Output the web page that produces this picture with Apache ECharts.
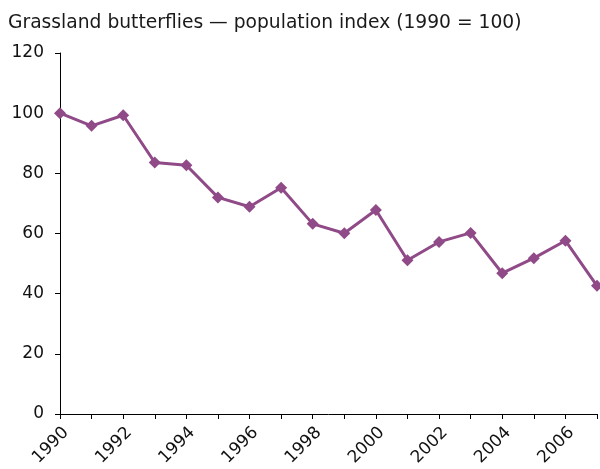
<!DOCTYPE html>
<html>
<head>
<meta charset="utf-8">
<script src="https://cdn.jsdelivr.net/npm/echarts@6/dist/echarts.min.js"></script>
<style>
  html, body { margin: 0; padding: 0; background: #fff; }
  #chart { width: 600px; height: 469px; }
</style>
</head>
<body>
<div id="chart"></div>
<script>
// population index, 1990 = 100
var years = ['1990', '1991', '1992', '1993', '1994', '1995', '1996', '1997', '1998',
             '1999', '2000', '2001', '2002', '2003', '2004', '2005', '2006', '2007'];
var indexValues = [100, 95.8, 99.3, 83.6, 82.7, 72.0, 68.9, 75.2, 63.2,
                   60.1, 67.8, 51.1, 57.2, 60.2, 46.8, 51.8, 57.6, 42.6];

var chart = echarts.init(document.getElementById('chart'));
var option = {
    animation: false,
    title: {
        text: 'Grassland butterflies \u2014 population index (1990 = 100)',
        left: 8,
        top: 14,
        padding: 0,
        textStyle: {
            color: '#1a1a1a',
            fontFamily: 'DejaVu Sans',
            fontSize: 18.7,
            fontWeight: 'normal'
        }
    },
    grid: {
        left: 60,
        right: 3,
        top: 53,
        bottom: 55,
        containLabel: false
    },
    xAxis: {
        type: 'category',
        data: years,
        boundaryGap: false,
        axisLine: { lineStyle: { color: '#000', width: 1 } },
        axisTick: {
            show: true,
            interval: 0,
            length: 5,
            lineStyle: { color: '#000' }
        },
        axisLabel: {
            interval: 1,
            rotate: 45,
            margin: 10,
            verticalAlign: 'top',
            color: '#111',
            fontFamily: 'DejaVu Sans',
            fontSize: 17
        },
        splitLine: { show: false }
    },
    yAxis: {
        type: 'value',
        min: 0,
        max: 120,
        interval: 20,
        axisLine: { show: true, lineStyle: { color: '#000', width: 1 } },
        axisTick: { show: true, length: 5, lineStyle: { color: '#000' } },
        axisLabel: {
            margin: 16,
            color: '#111',
            fontFamily: 'DejaVu Sans',
            fontSize: 17
        },
        splitLine: { show: false }
    },
    series: [
        {
            name: 'Grassland butterflies',
            type: 'line',
            data: indexValues,
            symbol: 'diamond',
            symbolSize: 12,
            clip: false,
            lineStyle: { color: '#8f4a87', width: 3 },
            itemStyle: { color: '#8f4a87' }
        }
    ]
};
chart.setOption(option);
</script>
</body>
</html>
